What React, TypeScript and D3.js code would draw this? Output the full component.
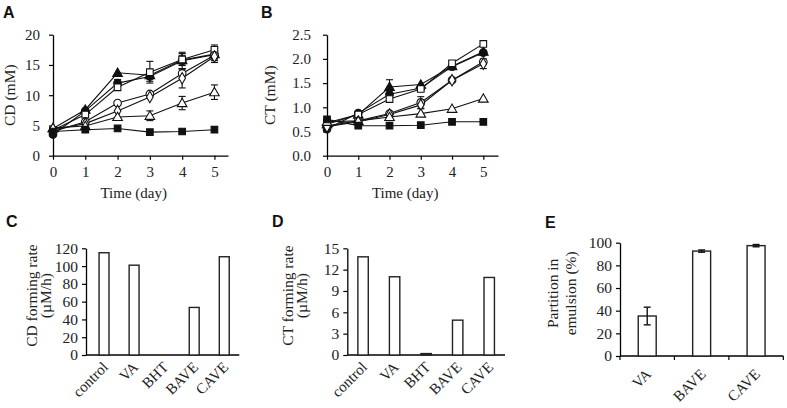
import { useEffect, useRef } from "react";
import * as d3 from "d3";

const days = [0, 1, 2, 3, 4, 5];

// marker style per series (same order in both line panels)
const markerShapes = ["triangle", "circle", "square", "circle", "diamond", "triangle", "square"];
const markerFilled = [true, true, false, false, false, false, true];

// panel A: CD (mM)
const cdFilledTriangle = [4.5, 7.6, 13.7, 13.3, 15.8, 16.8];
const cdFilledCircle = [3.5, 7.4, 12.0, 13.1, 15.7, 16.7];
const cdOpenSquare = [4.2, 6.8, 11.3, 13.8, 15.9, 17.5];
const cdOpenCircle = [4.0, 5.6, 8.7, 10.2, 13.6, 16.6];
const cdOpenDiamond = [4.3, 5.3, 7.4, 9.7, 12.8, 16.4];
const cdOpenTriangle = [4.6, 4.9, 6.4, 6.6, 8.7, 10.5];
const cdFilledSquare = [4.0, 4.3, 4.5, 3.9, 4.0, 4.3];
const cdErrors = [
  [0.2, 0.4, 0.4, 0.6, 0.8, 0.8],
  [0.2, 0.3, 0.6, 0.8, 1.4, 1.0],
  [0.2, 0.3, 0.3, 1.8, 1.0, 0.8],
  [0.2, 0.3, 0.3, 0.4, 0.8, 0.8],
  [0.2, 0.3, 0.3, 0.4, 1.6, 1.0],
  [0.2, 0.3, 0.4, 0.8, 1.1, 1.2],
  [0.2, 0.2, 0.3, 0.2, 0.2, 0.2],
];

// panel B: CT (mM)
const ctFilledTriangle = [0.65, 0.85, 1.42, 1.47, 1.85, 2.15];
const ctFilledCircle = [0.55, 0.88, 1.27, 1.4, 1.84, 2.13];
const ctOpenSquare = [0.68, 0.85, 1.17, 1.38, 1.91, 2.31];
const ctOpenCircle = [0.62, 0.72, 0.87, 1.1, 1.56, 1.94];
const ctOpenDiamond = [0.6, 0.7, 0.85, 1.05, 1.56, 1.9];
const ctOpenTriangle = [0.7, 0.72, 0.8, 0.87, 0.97, 1.18];
const ctFilledSquare = [0.75, 0.62, 0.62, 0.63, 0.7, 0.7];
const ctErrors = [
  [0.03, 0.03, 0.15, 0.04, 0.03, 0.05],
  [0.03, 0.03, 0.05, 0.04, 0.03, 0.05],
  [0.03, 0.03, 0.04, 0.04, 0.03, 0.03],
  [0.03, 0.03, 0.04, 0.12, 0.03, 0.05],
  [0.03, 0.03, 0.04, 0.08, 0.03, 0.1],
  [0.03, 0.03, 0.03, 0.04, 0.03, 0.03],
  [0.03, 0.02, 0.02, 0.02, 0.02, 0.02],
];

// panels C, D
const rateCategories = ["control", "VA", "BHT", "BAVE", "CAVE"];
const cdRate = [115, 101, 0, 53.5, 110.5];
const ctRate = [13.8, 11.0, 0.2, 4.9, 10.9];

// panel E
const partitionCategories = ["VA", "BAVE", "CAVE"];
const partition = [35.3, 92.6, 97.4];
const partitionErr = [7.8, 1.0, 1.0];

const serif = "'Liberation Serif', 'Times New Roman', serif";
const sans = "'Liberation Sans', Arial, sans-serif";

const symbolFor = (shape) =>
  shape === "triangle"
    ? d3.symbolTriangle
    : shape === "circle"
    ? d3.symbolCircle
    : shape === "square"
    ? d3.symbolSquare
    : d3.symbolDiamond;

const sizeFor = (shape) =>
  shape === "triangle" ? 40 : shape === "circle" ? 46 : shape === "square" ? 44 : 38;

function styleAxis(g, fontSize = 15) {
  g.select(".domain").attr("stroke", "#000").attr("stroke-width", 1.3);
  g.selectAll(".tick line").attr("stroke", "#000").attr("stroke-width", 1.2);
  g.selectAll(".tick text")
    .attr("fill", "#222")
    .style("font-family", serif)
    .style("font-size", `${fontSize}px`);
}

function drawLinePanel(svg, opt) {
  const { left, right, top, bottom, xMax, yMax, yTicks, fmt, yPad, series, errors, ylabel, ylabelX, letter, letterX } = opt;
  const x = d3.scaleLinear().domain([0, xMax]).range([left, right]);
  const y = d3.scaleLinear().domain([0, yMax]).range([bottom, top]);

  svg
    .append("g")
    .attr("transform", `translate(0,${bottom})`)
    .call(d3.axisBottom(x).tickValues(days).tickFormat(d3.format("d")).tickSize(4).tickSizeOuter(0).tickPadding(7))
    .call((g) => styleAxis(g, 15));

  svg
    .append("g")
    .attr("transform", `translate(${left},0)`)
    .call(d3.axisLeft(y).tickValues(yTicks).tickFormat(fmt).tickSize(4).tickSizeOuter(0).tickPadding(yPad))
    .call((g) => styleAxis(g, 15));

  const line = d3
    .line()
    .x((d, i) => x(days[i]))
    .y((d) => y(d));

  series.forEach((vals) => {
    svg
      .append("path")
      .attr("d", line(vals))
      .attr("fill", "none")
      .attr("stroke", "#111")
      .attr("stroke-width", 1.1);
  });

  series.forEach((vals, s) => {
    const err = errors[s];
    const g = svg.append("g");
    vals.forEach((v, i) => {
      const e = err[i];
      if (y(v - e) - y(v + e) > 7) {
        const cx = x(days[i]);
        g.append("line").attr("x1", cx).attr("x2", cx).attr("y1", y(v - e)).attr("y2", y(v + e)).attr("stroke", "#111").attr("stroke-width", 1.1);
        [v - e, v + e].forEach((w) =>
          g.append("line").attr("x1", cx - 3.5).attr("x2", cx + 3.5).attr("y1", y(w)).attr("y2", y(w)).attr("stroke", "#111").attr("stroke-width", 1.1)
        );
      }
    });
  });

  series.forEach((vals, s) => {
    const shape = markerShapes[s];
    const sym = d3.symbol().type(symbolFor(shape)).size(sizeFor(shape));
    svg
      .append("g")
      .selectAll("path")
      .data(vals)
      .join("path")
      .attr("d", sym)
      .attr("transform", (d, i) => `translate(${x(days[i])},${y(d) + (shape === "triangle" ? 0.8 : 0)})`)
      .attr("fill", markerFilled[s] ? "#111" : "#fff")
      .attr("stroke", "#111")
      .attr("stroke-width", 1.1);
  });

  svg
    .append("text")
    .attr("x", (left + x(5)) / 2)
    .attr("y", bottom + 42)
    .attr("text-anchor", "middle")
    .style("font-family", serif)
    .style("font-size", "15px")
    .attr("fill", "#222")
    .text("Time (day)");

  svg
    .append("text")
    .attr("transform", `translate(${ylabelX},${(top + bottom) / 2}) rotate(-90)`)
    .attr("text-anchor", "middle")
    .style("font-family", serif)
    .style("font-size", "15.5px")
    .attr("fill", "#222")
    .text(ylabel);

  svg
    .append("text")
    .attr("x", letterX)
    .attr("y", 18)
    .style("font-family", sans)
    .style("font-weight", "bold")
    .style("font-size", "16px")
    .attr("fill", "#111")
    .text(letter);
}

function drawBarPanel(svg, opt) {
  const { axisX, axisEnd, bandStart, top, bottom, yMax, yTicks, cats, vals, errs, xTicks, labels, labelXs, letter, letterX, letterY, labelDy } = opt;
  const y = d3.scaleLinear().domain([0, yMax]).range([bottom, top]);
  const x = d3.scaleBand().domain(cats).range([bandStart, axisEnd]).paddingInner(0.67).paddingOuter(0.335);

  svg
    .append("g")
    .attr("transform", `translate(${axisX},0)`)
    .call(d3.axisLeft(y).tickValues(yTicks).tickSize(4).tickSizeOuter(0).tickPadding(4))
    .call((g) => styleAxis(g, 15.5));

  svg
    .append("line")
    .attr("x1", axisX)
    .attr("x2", axisEnd)
    .attr("y1", bottom)
    .attr("y2", bottom)
    .attr("stroke", "#000")
    .attr("stroke-width", 1.3);

  if (xTicks) {
    const bounds = [bandStart, ...cats.map((c) => x(c) + x.bandwidth() + (x.step() * 0.67) / 2)];
    bounds.forEach((bx) =>
      svg.append("line").attr("x1", bx).attr("x2", bx).attr("y1", bottom).attr("y2", bottom + 4).attr("stroke", "#000").attr("stroke-width", 1.2)
    );
  }

  svg
    .append("g")
    .selectAll("rect")
    .data(vals)
    .join("rect")
    .attr("x", (d, i) => x(cats[i]))
    .attr("width", x.bandwidth())
    .attr("y", (d) => y(d))
    .attr("height", (d) => bottom - y(d))
    .attr("fill", (d) => (d > 0 && bottom - y(d) < 3 ? "#333" : "#fff"))
    .attr("stroke", (d) => (d > 0 ? "#222" : "none"))
    .attr("stroke-width", 1.4);

  if (errs) {
    vals.forEach((v, i) => {
      const cx = x(cats[i]) + x.bandwidth() / 2;
      const e = errs[i];
      svg.append("line").attr("x1", cx).attr("x2", cx).attr("y1", y(v - e)).attr("y2", y(v + e)).attr("stroke", "#111").attr("stroke-width", 1.4);
      [v - e, v + e].forEach((w) =>
        svg.append("line").attr("x1", cx - 3.5).attr("x2", cx + 3.5).attr("y1", y(w)).attr("y2", y(w)).attr("stroke", "#111").attr("stroke-width", 1.4)
      );
    });
  }

  cats.forEach((c) => {
    const cx = x(c) + x.bandwidth() / 2 + 5;
    svg
      .append("text")
      .attr("transform", `translate(${cx},${bottom + labelDy}) rotate(-45)`)
      .attr("text-anchor", "end")
      .style("font-family", serif)
      .style("font-size", "15px")
      .attr("fill", "#222")
      .text(c);
  });

  labels.forEach((t, i) => {
    svg
      .append("text")
      .attr("transform", `translate(${labelXs[i]},${(top + bottom) / 2 - 6}) rotate(-90)`)
      .attr("text-anchor", "middle")
      .style("font-family", serif)
      .style("font-size", "15.5px")
      .attr("fill", "#222")
      .text(t);
  });

  svg
    .append("text")
    .attr("x", letterX)
    .attr("y", letterY)
    .style("font-family", sans)
    .style("font-weight", "bold")
    .style("font-size", "16px")
    .attr("fill", "#111")
    .text(letter);
}

export default function App() {
  const ref = useRef(null);

  useEffect(() => {
    ref.current.innerHTML = "";
    const svg = d3.select(ref.current);

    drawLinePanel(svg, {
      left: 53,
      right: 228,
      top: 34.7,
      bottom: 155.7,
      xMax: 5.42,
      yMax: 20,
      yTicks: [0, 5, 10, 15, 20],
      fmt: d3.format("d"),
      yPad: 9,
      series: [cdFilledTriangle, cdFilledCircle, cdOpenSquare, cdOpenCircle, cdOpenDiamond, cdOpenTriangle, cdFilledSquare],
      errors: cdErrors,
      ylabel: "CD (mM)",
      ylabelX: 15,
      letter: "A",
      letterX: 3,
    });

    drawLinePanel(svg, {
      left: 327,
      right: 498,
      top: 34.7,
      bottom: 155.7,
      xMax: 5.47,
      yMax: 2.5,
      yTicks: [0, 0.5, 1, 1.5, 2, 2.5],
      fmt: d3.format(".1f"),
      yPad: 12,
      series: [ctFilledTriangle, ctFilledCircle, ctOpenSquare, ctOpenCircle, ctOpenDiamond, ctOpenTriangle, ctFilledSquare],
      errors: ctErrors,
      ylabel: "CT (mM)",
      ylabelX: 275,
      letter: "B",
      letterX: 261,
    });

    drawBarPanel(svg, {
      axisX: 86,
      axisEnd: 239.3,
      bandStart: 89,
      top: 248.3,
      bottom: 355,
      yMax: 120,
      yTicks: [0, 20, 40, 60, 80, 100, 120],
      cats: rateCategories,
      vals: cdRate,
      errs: null,
      xTicks: false,
      labels: ["CD forming rate", "(µM/h)"],
      labelXs: [37, 51],
      letter: "C",
      letterX: 6,
      letterY: 227,
      labelDy: 13,
    });

    drawBarPanel(svg, {
      axisX: 347.3,
      axisEnd: 505,
      bandStart: 347.3,
      top: 248.3,
      bottom: 355,
      yMax: 15,
      yTicks: [0, 3, 6, 9, 12, 15],
      cats: rateCategories,
      vals: ctRate,
      errs: null,
      xTicks: false,
      labels: ["CT forming rate", "(µM/h)"],
      labelXs: [293, 307],
      letter: "D",
      letterX: 272,
      letterY: 227,
      labelDy: 13,
    });

    drawBarPanel(svg, {
      axisX: 620,
      axisEnd: 783.3,
      bandStart: 620,
      top: 242.7,
      bottom: 356,
      yMax: 100,
      yTicks: [0, 20, 40, 60, 80, 100],
      cats: partitionCategories,
      vals: partition,
      errs: partitionErr,
      xTicks: true,
      labels: ["Partition in", "emulsion (%)"],
      labelXs: [558, 576],
      letter: "E",
      letterX: 545,
      letterY: 228,
      labelDy: 19,
    });
  }, []);

  return (
    <svg
      ref={ref}
      width={787}
      height={408}
      style={{ position: "absolute", left: 0, top: 0, background: "#fff" }}
    />
  );
}
